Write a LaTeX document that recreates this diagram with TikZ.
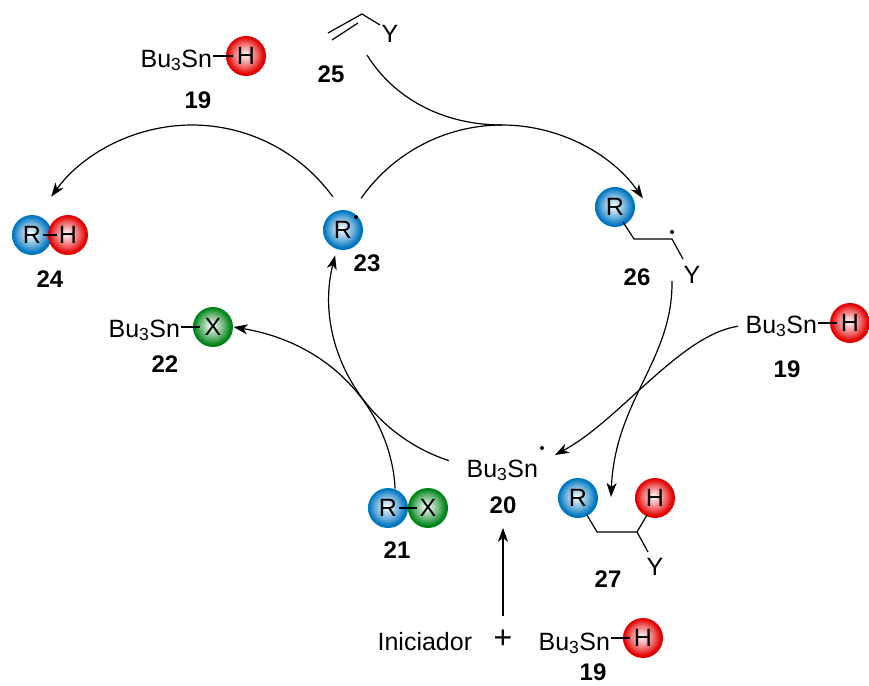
\documentclass[tikz,border=0pt]{standalone}
\usepackage{fontspec}
\setmainfont{Liberation Sans}
\usepackage{tikz}
\usetikzlibrary{arrows.meta}

\definecolor{rblue}{RGB}{0,118,192}
\definecolor{hred}{RGB}{228,0,0}
\definecolor{xgreen}{RGB}{0,132,24}
\pgfdeclareradialshading{blueball}{\pgfpoint{-2bp}{2bp}}{color(0bp)=(white); color(3bp)=(rblue!12!white); color(15bp)=(rblue!60!white); color(23bp)=(rblue); color(50bp)=(rblue)}
\pgfdeclareradialshading{redball}{\pgfpoint{-2bp}{2bp}}{color(0bp)=(white); color(3bp)=(hred!12!white); color(15bp)=(hred!60!white); color(23bp)=(hred); color(50bp)=(hred)}
\pgfdeclareradialshading{greenball}{\pgfpoint{-2bp}{2bp}}{color(0bp)=(white); color(3bp)=(xgreen!12!white); color(15bp)=(xgreen!60!white); color(23bp)=(xgreen); color(50bp)=(xgreen)}

\begin{document}
\begin{tikzpicture}[x=1pt, y=-1pt, line width=1.2pt, font=\fontsize{25}{30}\selectfont,
  >={Stealth[length=14pt, width=10pt, inset=4pt]},
  lbl/.style={inner sep=0pt, anchor=base},
  num/.style={inner sep=0pt, anchor=base, font=\fontsize{24}{28}\selectfont\bfseries},
  rball/.style={circle, minimum size=40pt, inner sep=0pt, shade, shading=blueball},
  hball/.style={circle, minimum size=40pt, inner sep=0pt, shade, shading=redball},
  xball/.style={circle, minimum size=40pt, inner sep=0pt, shade, shading=greenball}]

\useasboundingbox (0,0) rectangle (869,685);

%hydride top left
\node[lbl, anchor=base west] (sn19a) at (140,67) {Bu\textsubscript{3}Sn};
\node[hball] (h19a) at (246,56) {H};
\draw[shorten >=13pt] (sn19a.east |- h19a.center) -- (h19a.center);
\node[num] (n19a) at (198,108) {19};

%alkene
\draw (328,33) -- (362,14) -- (380,25);
\draw (332,40) -- (358,23);
\node[lbl] (y25) at (390,43) {Y};
\node[num] (n25) at (331,82) {25};
\coordinate (v25) at (367,55);

%R-H
\node[rball] (r24) at (32,235) {R};
\node[hball] (h24) at (68,235) {H};
\draw[shorten <=11pt, shorten >=11pt] (r24.center) -- (h24.center);
\node[num] (n24) at (50,287) {24};

%radical R
\node[rball] (r23) at (343,230) {R};
\fill (356,217) circle (2);
\node[num] (n23) at (367,271) {23};

%adduct radical
\node[rball] (r26) at (615,207) {R};
\draw ([shift={(8,15)}]r26.center) -- ++(11,17) -- ++(38,0) -- ++(11,20);
\fill (672,232) circle (2);
\node[lbl] (y26) at (692,283) {Y};
\node[num] (n26) at (637,285) {26};

%tin halide
\node[lbl, anchor=base west] (sn22) at (108,337) {Bu\textsubscript{3}Sn};
\node[xball] (x22) at (213,327) {X};
\draw[shorten >=13pt] (sn22.east |- x22.center) -- (x22.center);
\node[num] (n22) at (165,372) {22};

%hydride right
\node[lbl, anchor=base west] (sn19b) at (745,333) {Bu\textsubscript{3}Sn};
\node[hball] (h19b) at (850,323) {H};
\draw[shorten >=13pt] (sn19b.east |- h19b.center) -- (h19b.center);
\node[num] (n19b) at (787,377) {19};

%tin radical
\node[lbl, anchor=base west] (sn20) at (466,477) {Bu\textsubscript{3}Sn};
\fill (542,448) circle (2);
\node[num] (n20) at (503,513) {20};

%R-X
\node[rball] (r21) at (388,508) {R};
\node[xball] (x21) at (428,508) {X};
\draw[shorten <=11pt, shorten >=11pt] (r21.center) -- (x21.center);
\node[num] (n21) at (397,558) {21};

%product
\node[rball] (r27) at (578,498) {R};
\node[hball] (h27) at (655,498) {H};
\draw (587,515) -- (597,532) -- (637,532) -- (647,515);
\draw (637,532) -- (648,552);
\node[lbl] (y27) at (655,575) {Y};
\node[num] (n27) at (608,587) {27};

%initiation
\node[lbl, anchor=base west] (ini) at (377,650) {Iniciador};
\node[inner sep=0pt, font=\fontsize{32}{36}\selectfont] (plus) at (503,639) {+};
\node[lbl, anchor=base west] (sn19c) at (538,650) {Bu\textsubscript{3}Sn};
\node[hball] (h19c) at (643,638) {H};
\draw[shorten >=13pt] (sn19c.east |- h19c.center) -- (h19c.center);
\node[num] (n19c) at (593,680) {19};

%cycle
\coordinate (cyc) at (502,297);
\coordinate (c24) at (192,299);
\draw[->] ([shift={(-145:172)}]cyc) arc[start angle=-145, end angle=-35, radius=172];
\draw (v25) .. controls (395,100) and (445,125) .. ([shift={(-90:172)}]cyc);
\draw[->] (672,281) .. controls (673,360) and (615,400) .. (611,497);
\draw[->] ([xshift=-7pt]sn19b.west) .. controls (680,335) and (620,420) .. (555,455);
\draw[->] ([shift={(-252:172)}]cyc) arc[start angle=-252, end angle=-166, radius=172];
\draw[->] (r21.70) .. controls (392,420) and (340,345) .. (x22.east);
\draw[->] ([shift={(-36:174)}]c24) arc[start angle=-36, end angle=-144, radius=174];
\draw[->] ([yshift=13pt]plus.north) -- ([yshift=-14pt]n20.south);

\end{tikzpicture}
\end{document}
